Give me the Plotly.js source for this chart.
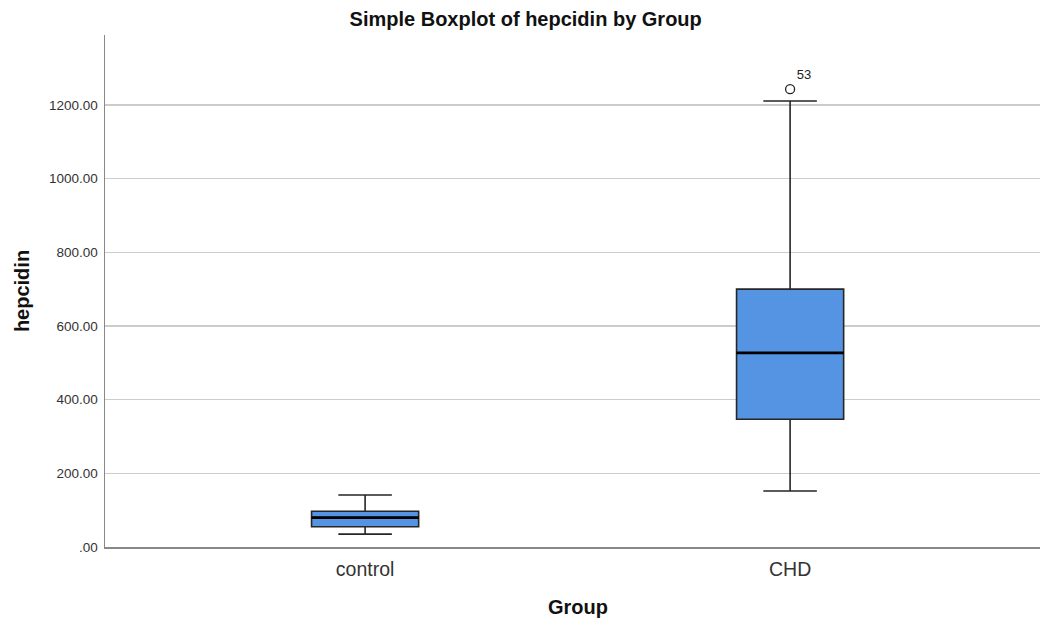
<!DOCTYPE html>
<html><head><meta charset="utf-8">
<script src="https://cdn.plot.ly/plotly-3.0.1.min.js"></script>
<style>html,body{margin:0;padding:0;background:#fff}#chart{width:1041px;height:619px}</style>
</head><body><div id="chart"></div>
<script>
const groups = ["control", "CHD"];
const lowerWhisker = [35, 152];
const q1Values = [55, 347];
const medianValues = [80, 527];
const q3Values = [97, 700];
const upperWhisker = [141, 1211];
const outlierGroup = ["CHD"];
const outlierValues = [1243];
const outlierLabels = ["53"];
const yTickVals = [0, 200, 400, 600, 800, 1000, 1200];
const yTickText = [".00", "200.00", "400.00", "600.00", "800.00", "1000.00", "1200.00"];

const font = "Liberation Sans, Arial, sans-serif";
const boxWidth = 0.252;
const traces = [
  {
    type: "box",
    x: groups,
    q1: q1Values, median: medianValues, q3: q3Values,
    lowerfence: lowerWhisker, upperfence: upperWhisker,
    fillcolor: "#5594e3",
    line: {color: "#262626", width: 1.6},
    width: boxWidth,
    whiskerwidth: 0.5,
    boxpoints: false,
    hoverinfo: "skip",
    showlegend: false
  },
  {
    type: "scatter", mode: "markers+text",
    x: outlierGroup, y: outlierValues, text: outlierLabels,
    textposition: "top right",
    textfont: {family: font, size: 13, color: "#222"},
    marker: {symbol: "circle-open", size: 9, color: "#222", line: {width: 1.3}},
    showlegend: false, hoverinfo: "skip"
  }
];
const shapes = medianValues.map((m, i) => ({
  type: "line", xref: "x", yref: "y",
  x0: i - boxWidth / 2, x1: i + boxWidth / 2, y0: m, y1: m,
  line: {color: "#000", width: 2.8}
}));
const layout = {
  width: 1041, height: 619,
  margin: {l: 105, r: 1, t: 35, b: 72},
  paper_bgcolor: "#fff", plot_bgcolor: "#fff",
  font: {family: font, color: "#222"},
  shapes: shapes,
  title: {text: "Simple Boxplot of hepcidin by Group", x: 0.505, xref: "container", y: 0.97, yanchor: "middle",
          font: {family: font, size: 20, weight: "bold", color: "#111"}},
  annotations: [{
    text: "Group", xref: "paper", yref: "paper", x: 0.506, y: -0.117,
    xanchor: "center", yanchor: "middle", showarrow: false,
    font: {family: font, size: 20, weight: "bold", color: "#111"}
  }],
  xaxis: {
    type: "category", range: [-0.612, 1.588],
    showgrid: false, zeroline: false,
    showline: true, linecolor: "#888", linewidth: 1.5,
    ticks: "outside", ticklen: 4, tickcolor: "rgba(0,0,0,0)",
    tickfont: {size: 19.5, color: "#333"}
  },
  yaxis: {
    range: [0, 1390],
    tickvals: yTickVals, ticktext: yTickText,
    showgrid: true, gridcolor: "#cccccc", gridwidth: 1.5,
    zeroline: false, showline: true, linecolor: "#888", linewidth: 1.5,
    ticks: "outside", ticklen: 3, tickcolor: "rgba(0,0,0,0)",
    tickfont: {size: 13.5, color: "#333"},
    title: {text: "hepcidin", font: {size: 20, weight: "bold", color: "#111"}, standoff: 14}
  }
};
Plotly.newPlot("chart", traces, layout, {displayModeBar: false, staticPlot: true});
</script></body></html>
